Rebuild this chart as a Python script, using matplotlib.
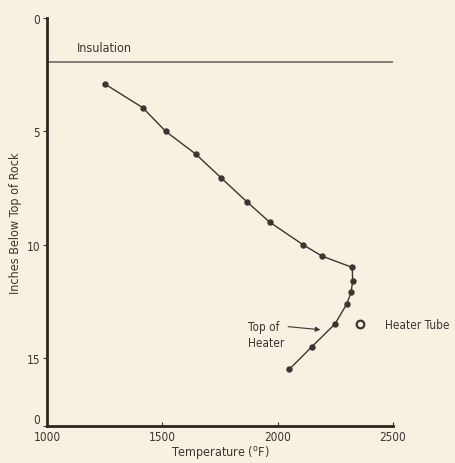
import matplotlib
matplotlib.use('Agg')
import matplotlib.pyplot as plt

plt.rcParams['font.family'] = ['DejaVu Sans']
plt.rcParams['font.stretch'] = 'condensed'

# temperature (deg F) vs depth below top of rock (inches)
temps = [1250, 1415, 1515, 1645, 1755, 1866, 1965, 2110, 2192,
         2323, 2325, 2318, 2300, 2248, 2148, 2050]
depths = [2.9, 3.95, 5.0, 6.0, 7.05, 8.1, 9.0, 10.0, 10.5,
          11.0, 11.6, 12.1, 12.6, 13.5, 14.5, 15.5]
insulation_depth = 1.95
heater_tube = (2355, 13.5)
top_of_heater = (2185, 13.75)

yticks = [0, 5, 10, 15, 18]
yticklabels = ['0', '5', '10', '15', '0']
xticks = [1000, 1500, 2000, 2500]

bg = '#f6f1e1'
ink = '#3a3632'

fig = plt.figure(figsize=(4.56, 4.64), dpi=100, facecolor=bg)
ax = fig.add_axes([0.103, 0.0797, 0.759, 0.879], facecolor=bg)

ax.plot(temps, depths, color=ink, lw=1.0, marker='o', ms=3.6, mfc=ink, mec=ink)
ax.plot([1000, 2500], [insulation_depth, insulation_depth], color='#6e6a64', lw=1.2)
ax.text(1250, insulation_depth - 0.35, 'Insulation', ha='center', va='bottom', fontsize=9, color=ink)

ax.plot(*heater_tube, marker='o', ms=5.5, mfc='none', mec=ink, mew=1.6, clip_on=False)
ax.text(heater_tube[0] + 110, heater_tube[1], 'Heater Tube', ha='left', va='center',
        fontsize=8.5, color=ink, clip_on=False)
ax.annotate('Top of\nHeater', xy=top_of_heater, xytext=(1870, 13.95),
            ha='left', va='center', fontsize=8.5, color=ink, linespacing=1.25,
            arrowprops=dict(arrowstyle='-|>', color=ink, lw=0.8, mutation_scale=7,
                            shrinkA=1, shrinkB=0, relpos=(1.0, 0.78)))

ax.set_xlim(1000, 2500)
ax.set_ylim(18, 0)
ax.set_xticks(xticks)
ax.set_yticks(yticks)
ax.set_yticklabels(yticklabels)
ax.tick_params(axis='both', direction='in', length=3, width=0.8, colors=ink,
               labelsize=8.5, pad=3)
ax.tick_params(axis='y', direction='out', length=3, pad=2)
# the bottom "0" sits just above the corner
ax.get_yticklabels()[-1].set_va('bottom')

for side in ['top', 'right']:
    ax.spines[side].set_visible(False)
for side in ['left', 'bottom']:
    ax.spines[side].set_linewidth(2)
    ax.spines[side].set_color('#2a2622')

ax.set_xlabel('Temperature ($^{\\mathrm{o}}$F)', fontsize=9, color=ink, labelpad=0)
ax.set_ylabel('Inches Below Top of Rock', fontsize=9, color=ink, labelpad=3)

fig.savefig('out.png', dpi=100, facecolor=bg)
